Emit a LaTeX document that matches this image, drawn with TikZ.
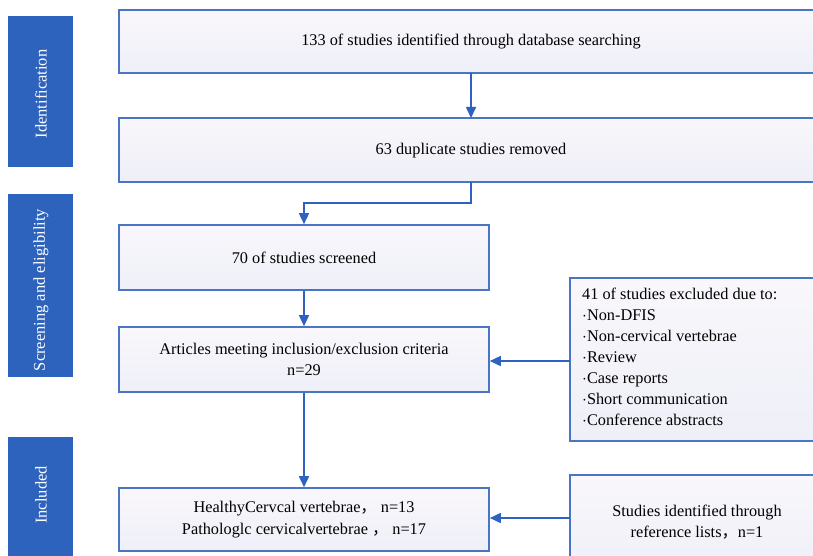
\documentclass[tikz,border=0pt]{standalone}
\usepackage{fontspec}
\setmainfont{Liberation Serif}
\newfontfamily\cjk{Noto Sans CJK SC}
\usetikzlibrary{arrows.meta}
\definecolor{barblue}{HTML}{2E63BD}
\definecolor{lineblue}{HTML}{4A74C4}
\definecolor{arrblue}{HTML}{2F62C0}
\definecolor{boxtop}{HTML}{F9F7FB}
\definecolor{boxbot}{HTML}{EEEFF8}
\tikzset{
  sidebar/.style={fill=barblue, draw=none},
  sidetext/.style={text=white, rotate=90, font=\fontsize{16.5}{18}\selectfont},
  flowbox/.style={draw=lineblue, line width=1.6pt, top color=boxtop, bottom color=boxbot, inner sep=0pt},
  flowtext/.style={font=\fontsize{16.3}{21.5}\selectfont, align=center, inner sep=0pt},
  listtext/.style={font=\fontsize{16.3}{21}\selectfont, align=left, inner sep=0pt, anchor=north west},
  conn/.style={draw=arrblue, line width=1.6pt},
  arr/.style={conn, -{Triangle[length=11pt,width=10pt]}},
}
\begin{document}
\begin{tikzpicture}[x=1pt,y=-1pt]
\useasboundingbox (0,0) rectangle (813,556);
\clip (0,0) rectangle (813,556);
% side bars
\fill[sidebar] (8,16) rectangle (73,167);
\node[sidetext] (sb1) at (41,94) {Identification};
\fill[sidebar] (8,194) rectangle (73,377);
\node[sidetext] (sb2) at (41,290) {Screening and eligibility};
\fill[sidebar] (8,437) rectangle (73,560);
\node[sidetext] (sb3) at (41,495) {Included};
% main boxes
\path[flowbox] (119,10) rectangle (830,73);
\node[flowtext] (t1) at (471,42) {133 of studies identified through database searching};
\coordinate (b1s) at (471,73);
\path[flowbox] (119,118) rectangle (830,182);
\node[flowtext] (t2) at (471,151) {63 duplicate studies removed};
\coordinate (b2n) at (471,118);
\coordinate (b2s) at (471,182);
\node[flowbox, minimum width=370pt, minimum height=65pt] (b3) at (304,257.5) {};
\node[flowtext] at (b3) {70 of studies screened};
\node[flowbox, minimum width=370pt, minimum height=65pt] (b4) at (304,359.5) {};
\node[flowtext] at (b4) {Articles meeting inclusion/exclusion criteria\\n=29};
\node[flowbox, minimum width=370pt, minimum height=63pt] (b5) at (304,519.5) {};
\node[flowtext] at (b5) {HealthyCervcal vertebrae{\cjk ，} n=13\\Pathologlc cervicalvertebrae {\cjk ，} n=17};
% right boxes
\path[flowbox] (570,278) rectangle (830,441);
\coordinate (exw) at (570,361);
\node[listtext] (ex) at (582,288) {41 of studies excluded due to:\\
$\cdot$Non-DFIS\\
$\cdot$Non-cervical vertebrae\\
$\cdot$Review\\
$\cdot$Case reports\\
$\cdot$Short communication\\
$\cdot$Conference abstracts};
\path[flowbox] (570,475) rectangle (830,580);
\coordinate (refw) at (570,518);
\node[flowtext] (rt) at (697,522) {Studies identified through\\reference lists{\cjk ，}n=1};
% connectors
\draw[arr] (b1s) -- (b2n);
\draw[arr] (b2s) -- (471,203) -| (b3.north);
\draw[arr] (b3.south) -- (b4.north);
\draw[arr] (b4.south) -- (b5.north);
\draw[arr] (exw) -- (exw -| b4.east);
\draw[arr] (refw) -- (refw -| b5.east);
\end{tikzpicture}
\end{document}
